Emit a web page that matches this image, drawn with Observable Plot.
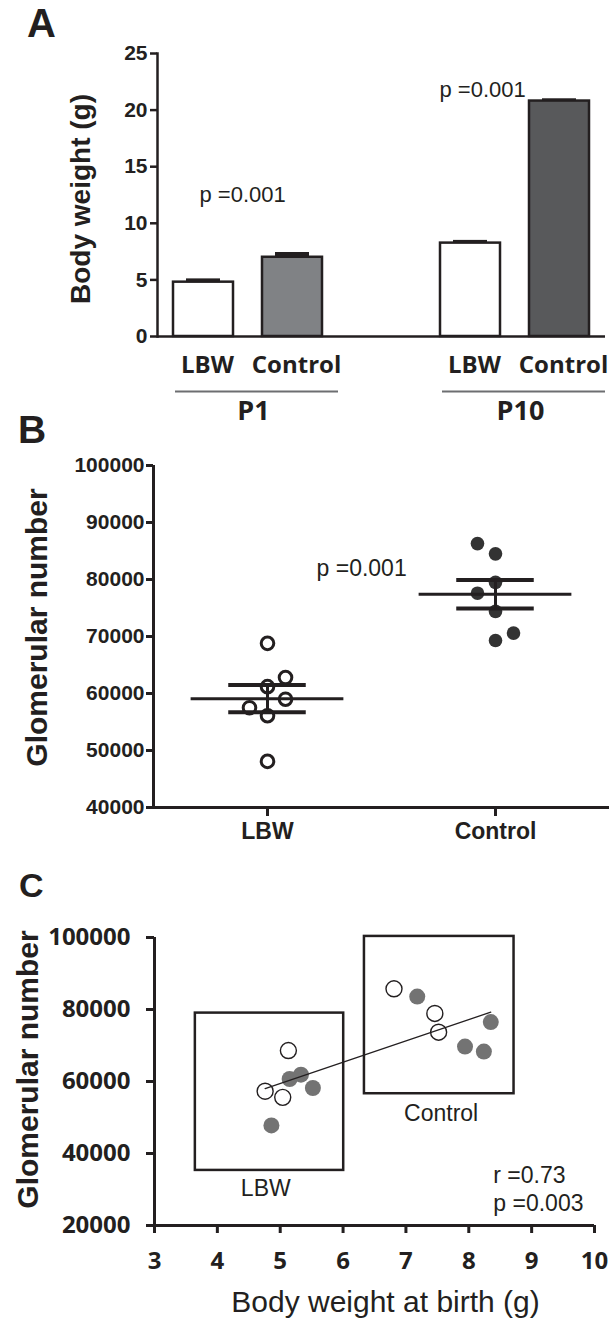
<!DOCTYPE html>
<html><head><meta charset="utf-8">
<script src="https://cdn.jsdelivr.net/npm/d3@7"></script>
<script src="https://cdn.jsdelivr.net/npm/@observablehq/plot@0.6"></script>
<style>
html,body{margin:0;padding:0;background:#fff}
#fig{position:relative;width:610px;height:1323px;overflow:hidden;background:#fff;font-family:"Liberation Sans",Arial,sans-serif;color:#231f20}
.panel{position:absolute;left:0}
.letter{position:absolute;font-weight:bold;line-height:1;color:#231f20;font-family:"Liberation Sans",Arial,sans-serif}
</style></head><body>
<div id="fig">
 <div class="panel" id="pa" style="top:0"></div>
 <div class="panel" id="pb" style="top:440px"></div>
 <div class="panel" id="pc" style="top:850px"></div>
 <div class="letter" style="left:27px;top:3px;font-size:40px">A</div>
 <div class="letter" style="left:18px;top:410px;font-size:39px">B</div>
 <div class="letter" style="left:19px;top:868px;font-size:34px">C</div>
</div>
<script>
// ---------- Panel A: body weight ----------
const ageGroups = ["P1", "P1", "P10", "P10"];
const weightGroups = ["LBW", "Control", "LBW", "Control"];
const bodyWeightMean = [4.8, 7.0, 8.25, 20.8];
const bodyWeightSem = [0.29, 0.42, 0.24, 0.2];
const bodyWeightFill = ["#ffffff", "#808285", "#ffffff", "#58595b"];
const bodyWeightTicks = [0, 5, 10, 15, 20, 25];
const bodyWeightPText = ["p =0.001", "p =0.001"];
const bodyWeightPAt = [12.5, 21.8];

// ---------- Panel B: glomerular number ----------
const glomGroups = ["LBW", "Control"];
const glomLbw = [68800, 62800, 61200, 59000, 57500, 56100, 48100];
const glomLbwColumn = [0, 1, 0, 1, -1, 0, 0];
const glomControl = [86300, 84500, 79500, 77600, 74400, 70600, 69300];
const glomControlColumn = [-1, 0, 0, -1, 0, 1, 0];
const glomMean = [59100, 77400];
const glomSem = [2400, 2500];
const glomTicks = [40000, 50000, 60000, 70000, 80000, 90000, 100000];
const glomPText = "p =0.001";
const glomPAt = 81900;

// ---------- Panel C: correlation ----------
const birthWeightOpen = [6.81, 7.46, 7.52, 5.13, 4.76, 5.04];
const glomOpen = [85750, 78900, 73700, 68600, 57300, 55600];
const birthWeightFilled = [7.18, 8.35, 7.94, 8.24, 5.15, 5.33, 5.52, 4.86];
const glomFilled = [83600, 76500, 69700, 68300, 60700, 61900, 58200, 47800];
const boxNames = ["LBW", "Control"];
const boxWeightRange = [[3.65, 6.01], [6.34, 8.72]];
const boxGlomRange = [[35300, 79000], [56600, 100300]];
const boxLabelAt = [[4.77, 30300], [7.56, 51100]];
const corrTicksX = [3, 4, 5, 6, 7, 8, 9, 10];
const corrTicksY = [20000, 40000, 60000, 80000, 100000];
const corrStats = "r =0.73\np =0.003";
const corrStatsAt = [8.39, 30450];

const ink = "#231f20";
const sans = "Liberation Sans, Arial, sans-serif";
const humanist = "Open Sans, sans-serif";
const baseStyle = {fontFamily: sans, color: ink, background: "transparent", overflow: "visible"};

// ----- Panel A -----
const bars = ageGroups.map((age, i) => ({
  key: `${age}|${weightGroups[i]}`, age, group: weightGroups[i],
  mean: bodyWeightMean[i], sem: bodyWeightSem[i], fill: bodyWeightFill[i]
}));
const ages = [...new Set(ageGroups)];
const xDomainA = ages.flatMap((a, j) => [...(j ? ["gap" + j] : []), ...bars.filter(b => b.age === a).map(b => b.key)]);
const ageSpans = ages.map(a => {
  const ks = bars.filter(b => b.age === a).map(b => b.key);
  return {age: a, first: ks[0], last: ks[ks.length - 1]};
});

const plotA = Plot.plot({
  width: 610, height: 430,
  marginTop: 53, marginBottom: 94, marginLeft: 157, marginRight: 5,
  style: baseStyle,
  x: {domain: xDomainA, paddingInner: 0.33, paddingOuter: 0.17},
  y: {domain: [0, 25]},
  color: {type: "identity"},
  marks: [
    Plot.barY(bars, {x: "key", y: "mean", fill: "fill", stroke: ink, strokeWidth: 2.5}),
    Plot.barY(bars, {x: "key", y1: "mean", y2: d => d.mean + d.sem, fill: ink, insetLeft: 13, insetRight: 13}),
    Plot.ruleY([0], {stroke: ink, strokeWidth: 2.5}),
    Plot.frame({anchor: "left", stroke: ink, strokeWidth: 2.5}),
    Plot.axisY({ticks: bodyWeightTicks, tickSize: 7, tickPadding: 3, fontSize: 21, fontWeight: "bold", label: null, strokeWidth: 2.5}),
    Plot.axisX({ticks: bars.map(d => d.key), tickFormat: k => k.split("|")[1], tickSize: 0, tickPadding: 19, dx: 4, fontSize: 24, fontWeight: "bold", fontFamily: humanist, label: null}),
    Plot.ruleY(ageSpans, {x1: "first", x2: "last", y: 0, dy: 55, stroke: "#6d6e71", strokeWidth: 2, insetLeft: 2, insetRight: -16}),
    Plot.text(ageSpans, {x: "first", y: 0, text: "age", dx: 50, dy: 64, lineAnchor: "top", fontSize: 27, fontWeight: "bold", fontFamily: humanist}),
    Plot.text(["Body weight (g)"], {frameAnchor: "left", textAnchor: "middle", dx: -76, dy: 4, rotate: -90, fontSize: 28, fontWeight: "bold"}),
    Plot.text([0], {x: () => bars[0].key, y: () => bodyWeightPAt[0], text: () => bodyWeightPText[0], textAnchor: "start", dx: -4, fontSize: 22}),
    Plot.text([1], {x: () => bars[2].key, y: () => bodyWeightPAt[1], text: () => bodyWeightPText[1], textAnchor: "start", dx: -31, fontSize: 22})
  ]
});
document.getElementById("pa").append(plotA);

// ----- Panel B -----
const colStep = 0.079;
const glomPoints = [
  ...glomLbw.map((v, i) => ({g: 0, pos: 1 + glomLbwColumn[i] * colStep, v})),
  ...glomControl.map((v, i) => ({g: 1, pos: 2 + glomControlColumn[i] * colStep, v}))
];
const glomSummary = glomGroups.map((name, i) => ({pos: i + 1, mean: glomMean[i], sem: glomSem[i]}));

const plotB = Plot.plot({
  width: 610, height: 410,
  marginTop: 25, marginBottom: 43, marginLeft: 153, marginRight: 1,
  style: baseStyle,
  x: {domain: [0.5, 2.5]},
  y: {domain: [40000, 100000]},
  marks: [
    Plot.ruleX([0.5], {stroke: ink, strokeWidth: 3}),
    Plot.ruleY([40000], {stroke: ink, strokeWidth: 3}),
    Plot.axisY({ticks: glomTicks, tickFormat: d => String(d), tickSize: 7, tickPadding: 2, fontSize: 21, fontWeight: "bold", label: null, strokeWidth: 3}),
    Plot.axisX({ticks: [1, 2], tickFormat: d => glomGroups[d - 1], tickSize: 9, tickPadding: 6, fontSize: 23, fontWeight: "bold", label: null, strokeWidth: 3}),
    Plot.dot(glomPoints.filter(d => d.g === 0), {x: "pos", y: "v", r: 6.3, fill: "white", stroke: ink, strokeWidth: 3}),
    Plot.dot(glomPoints.filter(d => d.g === 1), {x: "pos", y: "v", r: 6.8, fill: "#333333", stroke: "none"}),
    Plot.ruleY(glomSummary, {x1: d => d.pos - 0.335, x2: d => d.pos + 0.335, y: "mean", stroke: ink, strokeWidth: 3}),
    Plot.ruleY(glomSummary, {x1: d => d.pos - 0.17, x2: d => d.pos + 0.17, y: d => d.mean + d.sem, stroke: ink, strokeWidth: 4}),
    Plot.ruleY(glomSummary, {x1: d => d.pos - 0.17, x2: d => d.pos + 0.17, y: d => d.mean - d.sem, stroke: ink, strokeWidth: 4}),
    Plot.ruleX(glomSummary, {x: "pos", y1: d => d.mean - d.sem, y2: d => d.mean + d.sem, stroke: ink, strokeWidth: 3}),
    Plot.text(["Glomerular number"], {frameAnchor: "left", textAnchor: "middle", dx: -116, dy: -9, rotate: -90, fontSize: 30, fontWeight: "bold"}),
    Plot.text([glomPText], {x: 1.215, y: glomPAt, textAnchor: "start", fontSize: 23})
  ]
});
document.getElementById("pb").append(plotB);

// ----- Panel C -----
const openPts = birthWeightOpen.map((w, i) => ({w, g: glomOpen[i]}));
const filledPts = birthWeightFilled.map((w, i) => ({w, g: glomFilled[i]}));
const allPts = [...openPts, ...filledPts];
const boxes = boxNames.map((name, i) => ({
  name, x1: boxWeightRange[i][0], x2: boxWeightRange[i][1], y1: boxGlomRange[i][0], y2: boxGlomRange[i][1],
  lx: boxLabelAt[i][0], ly: boxLabelAt[i][1]
}));

const plotC = Plot.plot({
  width: 610, height: 473,
  marginTop: 87, marginBottom: 98, marginLeft: 154, marginRight: 16,
  style: baseStyle,
  x: {domain: [3, 10]},
  y: {domain: [20000, 100000]},
  marks: [
    Plot.rect(boxes, {x1: "x1", x2: "x2", y1: "y1", y2: "y2", fill: "none", stroke: ink, strokeWidth: 2.5}),
    Plot.text(boxes, {x: "lx", y: "ly", text: "name", fontSize: 23}),
    Plot.dot(filledPts, {x: "w", y: "g", r: 8, fill: "#737373", stroke: "none"}),
    Plot.dot(openPts, {x: "w", y: "g", r: 8, fill: "white", stroke: ink, strokeWidth: 1.4}),
    Plot.linearRegressionY(allPts, {x: "w", y: "g", ci: 0, stroke: ink, strokeWidth: 1.3}),
    Plot.ruleX([3], {stroke: ink, strokeWidth: 3}),
    Plot.ruleY([20000], {stroke: ink, strokeWidth: 3}),
    Plot.axisY({ticks: corrTicksY, tickFormat: d => String(d), tickSize: 8, tickPadding: 16, fontSize: 24, fontWeight: "bold", fontFamily: humanist, label: null, strokeWidth: 3}),
    Plot.axisX({ticks: corrTicksX, tickFormat: d => String(d), tickSize: 8, tickPadding: 18, fontSize: 24, fontWeight: "bold", fontFamily: humanist, label: null, strokeWidth: 3}),
    Plot.text(["Glomerular number"], {frameAnchor: "left", textAnchor: "middle", dx: -126, dy: -12, rotate: -90, fontSize: 30, fontWeight: "bold"}),
    Plot.text(["Body weight at birth (g)"], {frameAnchor: "bottom", dx: 11, dy: 86, fontSize: 30}),
    Plot.text([corrStats], {x: corrStatsAt[0], y: corrStatsAt[1], textAnchor: "start", lineHeight: 1.25, fontSize: 23})
  ]
});
document.getElementById("pc").append(plotC);
</script>
</body></html>
